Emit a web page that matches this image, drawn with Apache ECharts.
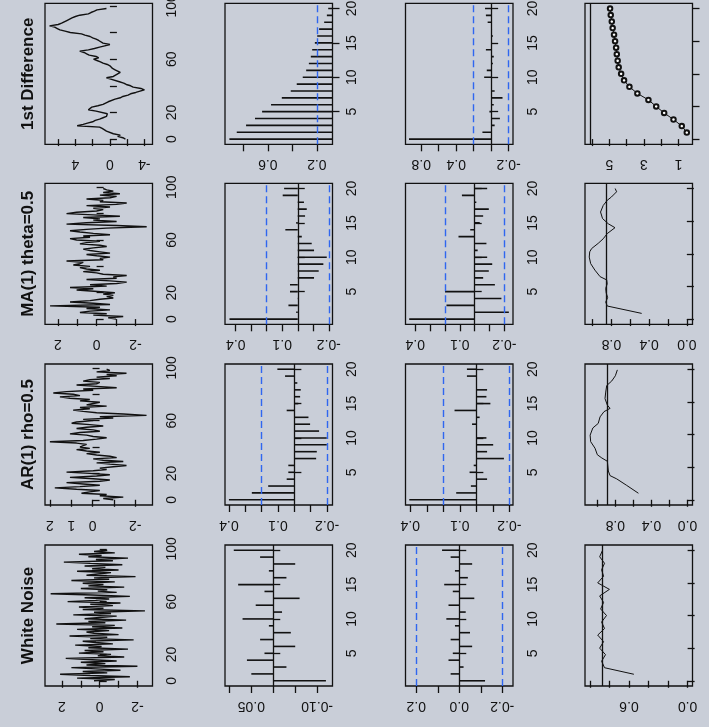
<!DOCTYPE html>
<html><head><meta charset="utf-8">
<script src="https://cdn.jsdelivr.net/npm/echarts@6/dist/echarts.min.js"></script>
<style>html,body{margin:0;padding:0;background:#c9ced8}#c{width:709px;height:727px}</style>
</head><body><div id="c"></div><script>
// ---------------- data ----------------
const titles = ['1st Difference', 'MA(1) theta=0.5', 'AR(1) rho=0.5', 'White Noise'];

const rwSeries = [-1.8,-1.5,-0.9,-1.2,-0.4,-0.6,0.4,0.2,0.9,1.2,
3.8,3.1,2.6,2.0,1.7,1.2,0.8,0.4,0.6,0.3,
0.5,1.6,2.5,2.3,2.1,1.4,0.8,0.5,0.2,0.0,
-0.6,-1.2,-1.5,-2.1,-2.4,-3.0,-3.5,-4.0,-3.6,-2.7,
-2.4,-1.9,-1.6,-1.1,-0.9,-0.1,0.4,-0.4,-0.6,-0.9,
-1.2,-0.9,-0.6,-0.3,-0.2,0.0,0.3,0.8,1.1,1.5,
1.9,1.3,1.6,2.4,2.7,3.0,3.5,2.5,1.8,1.2,
0.6,0.0,0.8,1.0,1.3,1.6,2.0,2.3,2.9,3.3,
4.6,5.2,5.8,6.1,6.4,7.0,6.0,5.6,5.3,5.0,
4.8,4.4,4.0,3.5,2.5,2.2,1.8,1.5,0.4];

const maSeries = [-1.0,-0.6,
-1.37,0.17,-0.52,0.86,0.34,-0.69,0.52,-0.17,2.4,-0.69,
0.17,1.37,0.34,-0.17,-0.86,-0.52,-0.86,-0.34,-0.94,-1.03,
1.03,0.17,1.37,-0.52,0.34,-1.03,-1.55,-0.69,0.52,-1.03,
-0.86,-1.55,-0.34,0,0.69,-0.17,0.52,0.86,0.34,1.2,
0.86,0.69,1.55,-0.34,-0.17,-0.69,0,0.52,-0.69,-0.17,
0.34,0.69,0.17,-0.52,-0.17,0.86,0.52,-0.17,1.03,1.37,
0.34,0.69,-0.69,0.17,0.86,1.37,0.52,-0.5,-2.58,-1.03,
1.55,0.52,-1.03,0.17,-0.17,0.69,-1.2,0.17,1.55,1.03,
0,-0.34,0.17,-0.69,0.52,-1.03,-1.55,-0.17,-0.34,0.52,
-0.69,-1.03,-0.17,-1.2,-0.34,-0.86,-0.52,-0.34];

const arSeries = [-0.97,-0.5,
-1.44,-0.34,-0.66,0.52,0.13,-0.34,0.75,1.77,0.59,-0.34,
0.44,1.22,-0.34,-0.81,-0.03,1.06,-0.19,-0.81,0.13,1.22,
-0.03,-0.66,-0.34,-0.97,-1.59,-0.81,-0.19,-1.44,-0.5,-0.03,
-1.13,-0.81,-0.19,0.28,-0.34,0.28,0.75,0.13,0.59,0.44,
0.28,0.75,2.0,0.44,-0.19,-0.66,-0.03,0.28,1.06,0.59,
-0.34,-0.03,0.75,0.28,-0.5,0.13,0.98,0.75,-0.03,0.44,
-0.97,-0.34,-2.53,-1.44,-0.19,0.44,0.91,0.13,0.59,-0.66,
0.28,-0.03,-0.34,0.59,0.13,1.06,1.53,0.59,0.91,1.84,
1.22,-0.03,0.44,-1.13,-0.19,0.75,-0.19,-0.34,0.44,0.13,
-0.81,-0.19,-1.13,-0.66,-1.59,-0.19,-0.81,-0.66];

const wnSeries = [0.3,-0.8,1.2,-1.6,0.5,2.1,-0.4,0.9,-1.1,0.2,
1.5,-2.0,0.7,-0.3,1.0,-0.9,0.4,1.8,-1.3,0.1,
-0.6,1.1,-0.2,0.8,-1.5,0.6,-0.1,1.3,-0.7,0.2,
0.9,-1.8,0.5,-0.4,1.6,-1.0,0.3,0.7,-0.5,1.2,
-1.2,0.4,-0.8,2.3,-0.3,0.6,-1.4,0.8,0.0,-0.9,
1.4,-0.6,0.3,-2.4,0.9,-0.2,1.1,-0.7,0.5,-1.1,
1.7,0.2,-0.5,0.8,-1.6,0.4,2.6,-0.9,0.1,-0.4,
1.0,-1.3,0.6,-0.2,0.9,-0.8,1.5,-0.5,0.3,-1.9,
0.7,0.1,-0.6,1.2,-1.0,0.4,-0.3,0.8,-1.2,0.5,
1.9,-0.7,0.2,-1.5,0.6,-0.1,1.1,-0.8,0.3,-0.4];

// ACF / PACF, lags 1..20
const rwAcf  = [0.914,0.854,0.778,0.705,0.647,0.574,0.486,0.413,0.364,0.315,0.287,0.265,0.249,0.238,0.216,0.197,0.181,0.140,0.118,0.107];
const rwPacf = [0.94,0.10,-0.04,-0.10,0.02,-0.03,-0.13,-0.04,0.00,0.08,0.05,-0.02,-0.03,0.06,-0.01,-0.02,-0.01,0.04,0.06,0.07];
const maAcf  = [0.44,0.01,0.06,-0.005,0.05,0.05,-0.105,-0.135,-0.165,-0.187,-0.105,-0.09,-0.026,0.08,0.01,-0.047,-0.058,-0.04,0.097,0.088];
const maPacf = [0.441,-0.23,0.19,-0.18,0.20,-0.136,-0.057,-0.095,-0.118,-0.084,-0.02,-0.079,0.109,0.03,-0.034,-0.057,-0.095,-0.011,0.086,-0.084];
const arAcf  = [0.40,0.26,0.16,0.047,0.037,0.037,-0.133,-0.137,-0.198,-0.198,-0.151,-0.096,-0.086,0.047,-0.024,-0.035,-0.039,-0.018,0.057,0.104];
const arPacf = [0.406,0.122,0.033,-0.065,0.041,0.016,-0.167,-0.065,-0.102,-0.061,-0.004,0.026,-0.02,0.132,-0.085,-0.061,-0.065,0.0,0.057,0.057];
const wnAcf  = [-0.12,0.05,-0.03,0.06,0.02,-0.05,0.03,-0.04,0.01,0.07,-0.02,0.04,-0.06,0.02,0.08,-0.03,0.01,-0.05,0.03,0.09];
const wnPacf = [-0.12,0.04,-0.02,0.05,0.03,-0.06,0.04,-0.05,0.02,0.06,-0.03,0.05,-0.07,0.03,0.07,-0.04,0.02,-0.06,0.04,0.08];

// fourth column
const rwCol4 = [0.52,0.81,1.29,1.83,2.29,2.74,3.38,3.84,4.15,4.32,4.46,4.52,4.57,4.61,4.67,4.73,4.81,4.86,4.92,4.96];
const maCol4 = [[0.87,0.479],[2.0,0.844],[2.6,0.86],[3.3,0.84],[4.0,0.855],[4.7,0.86],[5.4,0.845],[6.0,0.85],[6.5,0.92],[7.5,0.975],[8.5,1.02],[9.5,1.035],[10.3,1.03],[10.8,1.01],[11.6,0.94],[12.3,0.887],[13.1,0.844],[14.0,0.762],[14.6,0.833],[15.4,0.894],[16.4,0.915],[17.4,0.887],[18.2,0.844],[18.7,0.80],[19.5,0.745],[20,0.76]];
const arCol4 = [[1.0,0.544],[2.2,0.674],[3.2,0.785],[3.7,0.859],[4.4,0.878],[5.9,0.889],[6.4,0.95],[6.9,1.0],[7.9,1.026],[8.9,1.074],[9.9,1.08],[11,1.05],[11.7,0.99],[12.7,0.97],[13.5,0.926],[14,0.859],[14.5,0.889],[15.5,0.915],[16.5,0.907],[17.5,0.896],[18.2,0.84],[19,0.80],[19.9,0.778]];
const wnCol4 = [[1,0.55],[2,0.85],[3,0.88],[4,0.84],[5,0.9],[6,0.86],[7,0.92],[8,0.85],[9,0.88],[10,0.83],[11,0.89],[12,0.86],[13,0.9],[14,0.8],[15,0.92],[16,0.86],[17,0.88],[18,0.85],[19,0.9],[20,0.87]];
const col4Ref = [6.08, 0.851, 0.893, 0.87];
const confLimit = 0.2;

// tick values / labels
const timeTicks = [0,20,40,60,80,100];
const timeLabels = [0,20,60,100];
const lagTicks = [5,10,15,20];
const col4LagTicks = [0,5,10,15,20];

// per row: [series, acf, pacf, col4]
const valueTicks = [
  [[-4,-2,0,2,4,6],[0.2,0.4,0.6,0.8],[-0.2,0,0.2,0.4,0.6,0.8],[1,2,3,4,5,6]],
  [[-2,-1,0,1,2],[-0.2,-0.1,0,0.1,0.2,0.3,0.4],[-0.2,-0.1,0,0.1,0.2,0.3,0.4],[0,0.2,0.4,0.6,0.8,1.0]],
  [[-2,-1,0,1,2],[-0.2,-0.1,0,0.1,0.2,0.3,0.4],[-0.2,-0.1,0,0.1,0.2,0.3,0.4],[0,0.2,0.4,0.6,0.8,1.0]],
  [[-2,-1,0,1,2],[-0.10,-0.05,0,0.05,0.10],[-0.2,-0.1,0,0.1,0.2],[0,0.2,0.4,0.6,0.8,1.0]]
];
const valueLabels = [
  [[-4,0,4],[0.2,0.6],[-0.2,0.4,0.8],[1,3,5]],
  [[-2,0,2],[-0.2,0.1,0.4],[-0.2,0.1,0.4],[0,0.4,0.8]],
  [[-2,0,1,2],[-0.2,0.1,0.4],[-0.2,0.1,0.4],[0,0.4,0.8]],
  [[-2,0,2],[-0.10,0.05],[-0.2,0,0.2],[0,0.6]]
];
const labelDecimals = [[0,1,1,0],[0,1,1,1],[0,1,1,1],[0,2,1,1]];

// ---------------- layout / scales ----------------
const valueRanges = [
  [[-4.94,7.53],[0.072,0.95],[-0.25,0.98],[0.19,6.41]],
  [[-2.88,2.66],[-0.224,0.469],[-0.258,0.466],[-0.06,1.08]],
  [[-2.81,2.23],[-0.233,0.424],[-0.222,0.429],[-0.056,1.137]],
  [[-2.8,2.9],[-0.135,0.11],[-0.25,0.25],[-0.05,1.05]]
];
const colLeft = [45, 225, 405.5, 585];
const rowTop = [3.3, 183.3, 364, 545];
const W = 107.5, H = 141;
const INK = '#111';
const FONT = 'Liberation Sans';

const seriesByRow = [rwSeries, maSeries, arSeries, wnSeries];
const acfByRow = [rwAcf, maAcf, arAcf, wnAcf];
const pacfByRow = [rwPacf, maPacf, arPacf, wnPacf];
const col4ByRow = [rwCol4.map((v,i)=>[i+1,v]), maCol4, arCol4, wnCol4];

const grids = [], xAxes = [], yAxes = [], series = [], graphics = [];

function spikeSeries(idx, vals) {
  return {
    type: 'custom', xAxisIndex: idx, yAxisIndex: idx, clip: true, silent: true,
    encode: {x: 0, y: 1},
    data: vals.map((v, i) => [v, i + 1]),
    renderItem: (params, api) => {
      const v = api.value(0), lag = api.value(1);
      const p0 = api.coord([0, lag]);
      const p1 = api.coord([v, lag]);
      return {type: 'line', shape: {x1: p0[0], y1: p0[1], x2: p1[0], y2: p1[1]},
              style: {stroke: INK, lineWidth: 1.6}};
    }
  };
}
function refLines(idx, range, withZero, dashed) {
  const d = [];
  if (withZero && 0 >= range[0] && 0 <= range[1]) d.push({xAxis: 0, lineStyle: {color: INK, type: 'solid', width: 1.3}});
  if (dashed) [confLimit, -confLimit].forEach(c => {
    if (c >= range[0] && c <= range[1]) d.push({xAxis: c, lineStyle: {color: '#2f66f0', type: [7, 4], width: 1.4}});
  });
  return {type: 'line', xAxisIndex: idx, yAxisIndex: idx, data: [], silent: true,
          markLine: {silent: true, symbol: ['none', 'none'], label: {show: false}, animation: false, data: d}};
}

for (let r = 0; r < 4; r++) {
  for (let c = 0; c < 4; c++) {
    const idx = r * 4 + c;
    const vr = valueRanges[r][c];
    const dec = labelDecimals[r][c];
    grids.push({left: colLeft[c], top: rowTop[r], width: W, height: H, show: true,
                containLabel: false, outerBoundsMode: 'none',
                borderColor: INK, borderWidth: 1.3, backgroundColor: 'transparent'});
    xAxes.push({
      gridIndex: idx, type: 'value', inverse: true, position: 'bottom', min: vr[0], max: vr[1],
      axisLine: {show: false}, splitLine: {show: false},
      axisTick: {show: true, customValues: valueTicks[r][c], length: 7, lineStyle: {color: INK, width: 1.3}},
      axisLabel: {show: true, customValues: valueLabels[r][c], rotate: 180, margin: 13,
                  fontSize: 14, color: INK, fontFamily: FONT, formatter: v => Number(v).toFixed(dec)}
    });
    let yr, yt, yl;
    if (c === 0) { yr = r === 0 ? [-3.92, 101.92] : [-3.96, 102.96]; yt = timeTicks; yl = timeLabels; }
    else if (c < 3) { yr = [0.24, 20.76]; yt = lagTicks; yl = lagTicks; }
    else { yr = [-0.8, 20.8]; yt = col4LagTicks; yl = col4LagTicks; }
    yAxes.push({
      gridIndex: idx, type: 'value', position: 'right', min: yr[0], max: yr[1],
      axisLine: {show: false}, splitLine: {show: false},
      axisTick: {show: true, customValues: yt, length: 7, lineStyle: {color: INK, width: 1.3}},
      axisLabel: {show: c !== 3, customValues: yl, rotate: 90, margin: 13,
                  fontSize: 14, color: INK, fontFamily: FONT}
    });
    if (c === 0) {
      series.push({type: 'line', xAxisIndex: idx, yAxisIndex: idx, silent: true, showSymbol: false,
        data: seriesByRow[r].map((v, i) => [v, i]), lineStyle: {color: INK, width: 1.4}});
    } else if (c === 1 || c === 2) {
      const vals = c === 1 ? acfByRow[r] : pacfByRow[r];
      series.push(spikeSeries(idx, vals));
      series.push(refLines(idx, vr, true, true));
    } else {
      const d = col4ByRow[r].map(p => [p[1], p[0]]);
      series.push({type: 'line', xAxisIndex: idx, yAxisIndex: idx, silent: true,
        showSymbol: r === 0, symbol: 'emptyCircle', symbolSize: 4.5,
        itemStyle: {color: INK, borderColor: INK, borderWidth: 0.9},
        data: d, lineStyle: {color: INK, width: 1},
        markLine: {silent: true, symbol: ['none', 'none'], label: {show: false},
                   data: [{xAxis: col4Ref[r], lineStyle: {color: INK, type: 'solid', width: 1.3}}]}});
    }
  }
  graphics.push({type: 'text', x: 28.5, y: rowTop[r] + H / 2, rotation: Math.PI / 2, silent: true,
    style: {text: titles[r], fill: INK, font: 'bold 17px "Liberation Sans"', align: 'center', verticalAlign: 'middle'}});
}

const chart = echarts.init(document.getElementById('c'));
chart.setOption({
  backgroundColor: '#c9ced8',
  animation: false,
  grid: grids, xAxis: xAxes, yAxis: yAxes, series: series, graphic: graphics
});
</script></body></html>
